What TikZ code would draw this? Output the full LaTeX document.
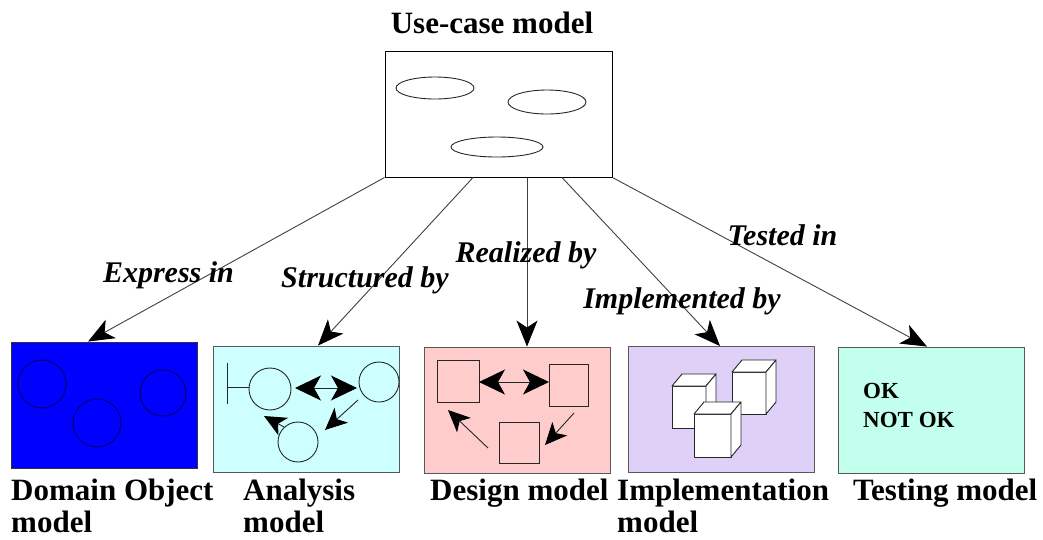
\documentclass[tikz,border=0pt]{standalone}
\usepackage{fontspec}
\setmainfont{Liberation Serif}
\usetikzlibrary{arrows.meta}

\definecolor{anafill}{RGB}{206,255,255}
\definecolor{desfill}{RGB}{255,204,204}
\definecolor{impfill}{RGB}{222,208,246}
\definecolor{tstfill}{RGB}{194,255,236}
\definecolor{navyline}{RGB}{0,0,110}

\tikzset{
  model/.style={draw=black!65, line width=0.9pt, minimum width=186pt, minimum height=126pt, inner sep=0pt},
  title/.style={font=\bfseries\fontsize{31}{32}\selectfont, inner sep=0pt},
  rel/.style={font=\bfseries\itshape\fontsize{30}{32}\selectfont, inner sep=0pt, anchor=base},
  flow/.style={draw=black!75, line width=0.9pt, -{Stealth[length=26pt,width=21pt,inset=7pt,black]}},
  glyph/.style={draw=black!85, line width=0.9pt},
  bigtip/.style={glyph, {Stealth[length=26pt,width=25pt,inset=7pt,black]}-{Stealth[length=26pt,width=25pt,inset=7pt,black]}},
  onetip/.style={glyph, -{Stealth[length=22pt,width=20pt,inset=6pt,black]}},
  cubeface/.style={draw=black!85, fill=white, line width=0.9pt, line join=round}
}

\begin{document}
\begin{tikzpicture}[x=1pt, y=-1pt]
\useasboundingbox (0,0) rectangle (1043,539);

% Use-case model
\node[title, anchor=base] (uctitle) at (492,33) {Use-case model};
\node[draw, line width=1pt, minimum width=227pt, minimum height=126pt, inner sep=0pt] (uc) at (498.5,114) {};
\draw[glyph] (435,88) ellipse [x radius=39, y radius=11];
\draw[glyph] (547,102) ellipse [x radius=39, y radius=12];
\draw[glyph] (497,147) ellipse [x radius=46, y radius=10];

% the five models
\node[model, fill=blue, draw=black!80] (dom) at (104,405) {};
\node[model, fill=anafill] (ana) at (306.5,409) {};
\node[model, fill=desfill] (des) at (517.5,410) {};
\node[model, fill=impfill] (imp) at (721,409.5) {};
\node[model, fill=tstfill] (tst) at (931.5,410) {};

% connectors
\draw[flow] (uc.south west) -- ([xshift=-16pt]dom.north);
\draw[flow] ([xshift=-25.5pt]uc.south) -- ([xshift=11.5pt]ana.north);
\draw[flow] ([xshift=28.5pt]uc.south) -- ([xshift=9.5pt]des.north);
\draw[flow] ([xshift=63.5pt]uc.south) -- ([xshift=-1pt]imp.north);
\draw[flow] (uc.south east) -- ([xshift=-4.5pt]tst.north);

\node[rel] (express) at (168.5,282) {Express in};
\node[rel] (structured) at (365,287) {Structured by};
\node[rel] (realized) at (526,262) {Realized by};
\node[rel] (implemented) at (682,308) {Implemented by};
\node[rel] (tested) at (782.5,245) {Tested in};

% Domain Object model
\draw[navyline, line width=1pt] (42,384) circle [radius=24];
\draw[navyline, line width=1pt] (97,423) circle [radius=24];
\draw[navyline, line width=1pt] (163,393) circle [radius=23];

% Analysis model
\draw[glyph] (227,363) -- (227,404);
\draw[glyph] (227,387) -- (249,387);
\draw[glyph] (270,389) circle [radius=21];
\draw[glyph] (379,382) circle [radius=20];
\draw[glyph] (298,442) circle [radius=20];
\draw[bigtip] (295,388) -- (357,388);
\draw[onetip] (358,400) -- (325,430);
\draw[onetip] (284,427) -- (264,416);

% Design model
\draw[glyph] (437,360) rectangle (479,402);
\draw[glyph] (549,364) rectangle (588,406);
\draw[glyph] (499,422) rectangle (539,463);
\draw[bigtip] (479,382) -- (549,382);
\draw[onetip] (574,413) -- (545,445);
\draw[onetip] (488,448) -- (448,410);

% Implementation model
\foreach \cx/\cy/\cw/\ch in {672/386/34/42, 732/372/34/42, 694/414/37/43} {
  \filldraw[cubeface] (\cx,\cy) rectangle ++(\cw,\ch);
  \filldraw[cubeface] (\cx,\cy) -- ++(10,-12) -- ++(\cw,0) -- ++(-10,12) -- cycle;
  \filldraw[cubeface] (\cx+\cw,\cy) -- ++(10,-12) -- ++(0,\ch) -- ++(-10,12) -- cycle;
}

% Testing model
\node[font=\bfseries\fontsize{23}{29}\selectfont, align=left, anchor=north west, inner sep=0pt] (verdict) at (863,383) {OK\\NOT OK};

% names of the models
\node[title, align=left, anchor=north west] (domname) at (11,479) {Domain Object\\model};
\node[title, align=left, anchor=north west] (ananame) at (243,479) {Analysis\\model};
\node[title, anchor=north west] (desname) at (430,479) {Design model};
\node[title, align=left, anchor=north west] (impname) at (617,479) {Implementation\\model};
\node[title, anchor=north west] (tstname) at (853,479) {Testing model};

\end{tikzpicture}
\end{document}
